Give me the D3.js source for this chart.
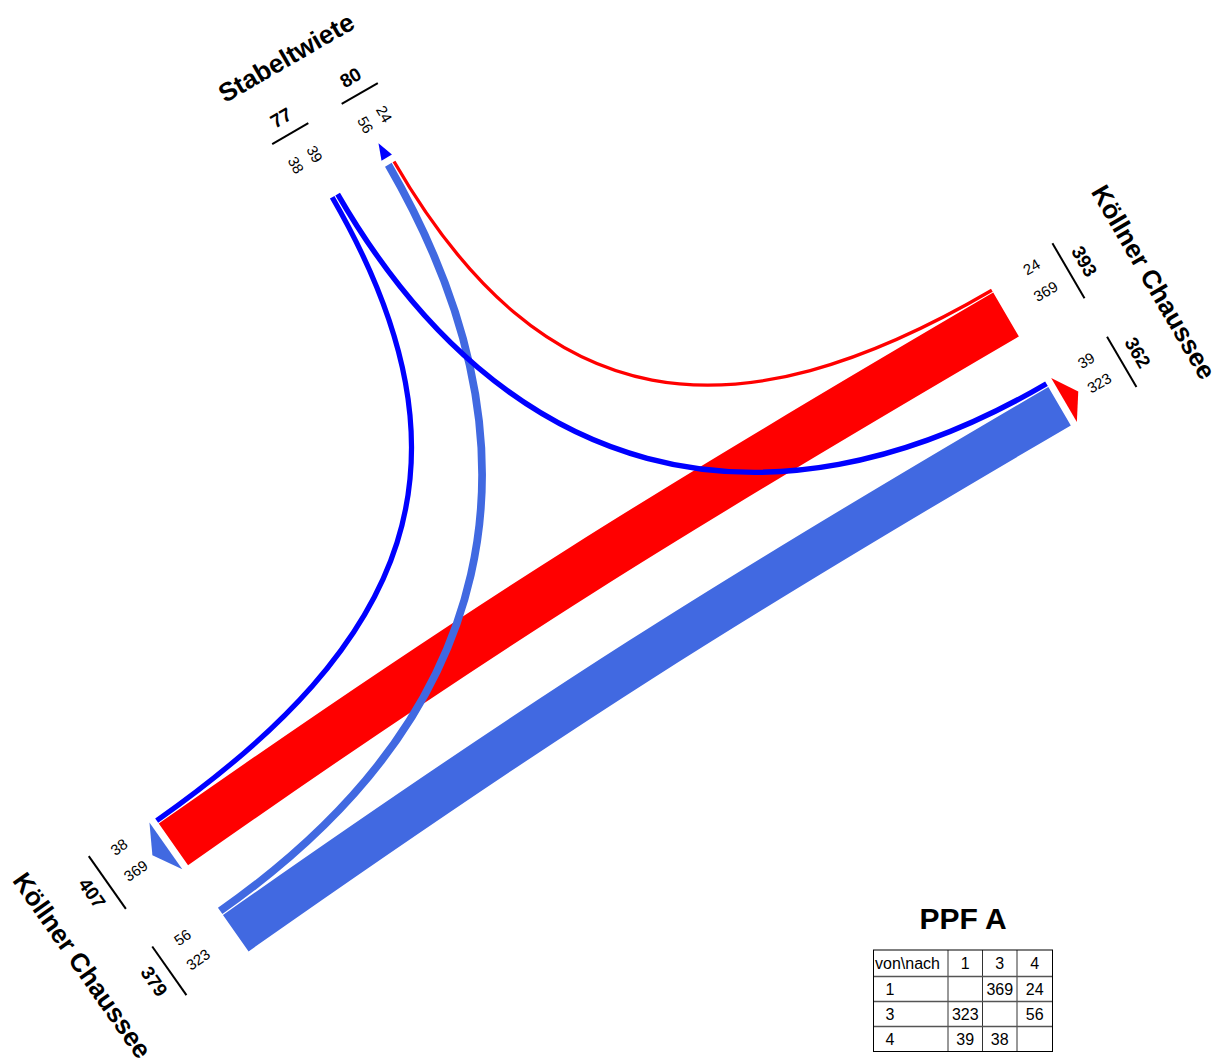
<!DOCTYPE html>
<html>
<head>
<meta charset="utf-8">
<script src="https://cdn.jsdelivr.net/npm/d3@7"></script>
<style>
  body { margin: 0; background: #fff; }
  svg text { font-family: "Liberation Sans", Arial, sans-serif; fill: #000; }
</style>
</head>
<body>
<svg id="chart" width="1224" height="1063"></svg>
<script>
// arms of the junction
const armIds = [1, 3, 4];
const armNames = ["Köllner Chaussee", "Köllner Chaussee", "Stabeltwiete"];

// turning movements (von -> nach)
const flowFrom = [1, 1, 3, 3, 4, 4];
const flowTo = [3, 4, 1, 4, 1, 3];
const flowVolume = [369, 24, 323, 56, 39, 38];

const title = "PPF A";
const tableCorner = "von\\nach";

// where each arm ends (middle of its gap) and which way it points, in degrees
const armLayout = {
  1: { x: 1032, y: 359, angle: -30.3 },
  3: { x: 203, y: 886.5, angle: 144.9 },
  4: { x: 362.5, y: 179.7, angle: -120 }
};
const armColor = { 1: "#ff0000", 3: "#4169e1", 4: "#0000ff" };

const svg = d3.select("#chart");
svg.append("rect").attr("width", 1224).attr("height", 1063).attr("fill", "#fff");

// band width per vehicle
const width = d3.scaleLinear().domain([0, 100]).range([0, 13.8]);
// handle length of the curves, from the chord length
const handle = d3.scaleLinear().domain([0, 1000]).range([152, 394]);

const halfGap = 26, sep = 1, labelGap = 21.7;
const outLabel = 46, outRule = 76, outTotal = 94.5, outName = 144;
const arrowBase = 7, arrowTip = 23.5;

const arms = armIds.map((id, i) => {
  const l = armLayout[id];
  const a = l.angle * Math.PI / 180;
  const d = [Math.cos(a), Math.sin(a)]; // outward
  const q = [d[1], -d[0]];              // side of departing traffic
  return { id, name: armNames[i], P: [l.x, l.y], d, q, angle: l.angle };
});
const armById = new Map(arms.map(a => [a.id, a]));

function pos(a, out, r) {
  return [a.P[0] + out * a.d[0] + r * a.q[0], a.P[1] + out * a.d[1] + r * a.q[1]];
}

function upright(angle) {
  let r = ((angle % 360) + 360) % 360;
  if (r > 180) r -= 360;
  if (r > 90) r -= 180;
  if (r <= -90) r += 180;
  return r;
}

const flows = flowVolume.map((v, i) => ({ from: flowFrom[i], to: flowTo[i], value: v }));

// left turns go inside, right turns outside
flows.forEach(f => {
  const o = armById.get(f.from), t = armById.get(f.to);
  f.turn = -o.d[0] * t.d[1] + o.d[1] * t.d[0];
});

arms.forEach(a => {
  a.sides = [
    { sign: 1, list: flows.filter(f => f.from === a.id) },
    { sign: -1, list: flows.filter(f => f.to === a.id) }
  ];
  a.sides.forEach(side => {
    side.list.sort((x, y) => x.turn - y.turn);
    let r = halfGap, lastLab = -Infinity;
    side.labels = [];
    side.list.forEach(f => {
      const w = width(f.value);
      const c = r + w / 2;
      if (side.sign > 0) f.startR = c; else f.endR = -c;
      const lab = Math.max(c, lastLab + labelGap);
      side.labels.push({ value: f.value, r: lab });
      lastLab = lab;
      r += w + sep;
    });
    side.inner = halfGap;
    side.outer = r - sep;
    side.total = d3.sum(side.list, f => f.value);
    side.ruleFrom = Math.min(side.inner, side.labels[0].r - 10);
    side.ruleTo = Math.max(side.outer, side.labels[side.labels.length - 1].r + 10);
  });
});

// flows, drawn by origin
const flowLayer = svg.append("g");
armIds.forEach(id => {
  flows.filter(f => f.from === id).forEach(f => {
    const o = armById.get(f.from), t = armById.get(f.to);
    const S = pos(o, 0, f.startR), E = pos(t, 0, f.endR);
    const L = handle(Math.hypot(E[0] - S[0], E[1] - S[1]));
    const C1 = pos(o, -L, f.startR), C2 = pos(t, -L, f.endR);
    const p = d3.path();
    p.moveTo(S[0], S[1]);
    p.bezierCurveTo(C1[0], C1[1], C2[0], C2[1], E[0], E[1]);
    flowLayer.append("path")
      .attr("d", p.toString())
      .attr("fill", "none")
      .attr("stroke", armColor[f.from])
      .attr("stroke-width", width(f.value))
      .attr("stroke-linecap", "butt");
  });
});

// arrows, numbers and names at each arm
const armLayer = svg.append("g");
arms.forEach(a => {
  const arr = a.sides[1];
  const b1 = pos(a, arrowBase, -arr.inner), b2 = pos(a, arrowBase, -arr.outer);
  const tip = pos(a, arrowTip, -(arr.inner + arr.outer) / 2);
  armLayer.append("path")
    .attr("d", d3.line()([b1, tip, b2]) + "Z")
    .attr("fill", armColor[a.id]);

  const rotAlong = upright(a.angle), rotAcross = upright(a.angle + 90);

  a.sides.forEach(side => {
    side.labels.forEach(l => {
      const p = pos(a, outLabel, side.sign * l.r);
      armLayer.append("text")
        .attr("transform", `translate(${p[0]},${p[1]}) rotate(${rotAlong})`)
        .attr("text-anchor", "middle").attr("dy", "0.35em")
        .attr("font-size", 15)
        .text(l.value);
    });
    const r1 = pos(a, outRule, side.sign * side.ruleFrom), r2 = pos(a, outRule, side.sign * side.ruleTo);
    armLayer.append("line")
      .attr("x1", r1[0]).attr("y1", r1[1]).attr("x2", r2[0]).attr("y2", r2[1])
      .attr("stroke", "#000").attr("stroke-width", 2);
    const tp = pos(a, outTotal, side.sign * (side.ruleFrom + side.ruleTo) / 2);
    armLayer.append("text")
      .attr("transform", `translate(${tp[0]},${tp[1]}) rotate(${rotAcross})`)
      .attr("text-anchor", "middle").attr("dy", "0.35em")
      .attr("font-size", 19).attr("font-weight", "bold")
      .text(side.total);
  });

  // name sits a little back along its reading direction
  const np = pos(a, outName, 0);
  const ra = rotAcross * Math.PI / 180;
  np[0] -= 5 * Math.cos(ra);
  np[1] -= 5 * Math.sin(ra);
  armLayer.append("text")
    .attr("transform", `translate(${np[0]},${np[1]}) rotate(${rotAcross})`)
    .attr("text-anchor", "middle").attr("dy", "0.35em")
    .attr("font-size", 26).attr("font-weight", "bold")
    .text(a.name);
});

// matrix table
const colX = [873.5, 948, 982.5, 1017, 1052.5];
const rowY = [950, 976.5, 1001.5, 1026.5, 1051.5];
const tab = svg.append("g");

tab.append("text")
  .attr("x", (colX[0] + colX[4]) / 2).attr("y", 928.5)
  .attr("text-anchor", "middle")
  .attr("font-size", 30).attr("font-weight", "bold")
  .text(title);

const cells = [[tableCorner, ...armIds]];
armIds.forEach(from => {
  cells.push([from, ...armIds.map(to => {
    const i = flows.findIndex(f => f.from === from && f.to === to);
    return i < 0 ? "" : flows[i].value;
  })]);
});

cells.forEach((row, ri) => {
  const yMid = (rowY[ri] + rowY[ri + 1]) / 2;
  row.forEach((v, ci) => {
    const t = tab.append("text")
      .attr("y", yMid).attr("dy", "0.35em")
      .attr("font-size", 16)
      .text(v);
    if (ci === 0) {
      t.attr("x", colX[0] + (ri === 0 ? 1.5 : 12)).attr("text-anchor", "start");
    } else {
      t.attr("x", (colX[ci] + colX[ci + 1]) / 2).attr("text-anchor", "middle");
    }
  });
});

colX.slice(1, -1).forEach(x => {
  tab.append("line").attr("x1", x).attr("x2", x).attr("y1", rowY[0]).attr("y2", rowY[4])
    .attr("stroke", "#333").attr("stroke-width", 1);
});
rowY.slice(1, -1).forEach(y => {
  tab.append("line").attr("x1", colX[0]).attr("x2", colX[4]).attr("y1", y).attr("y2", y)
    .attr("stroke", "#555").attr("stroke-width", 1.5);
});
tab.append("rect")
  .attr("x", colX[0]).attr("y", rowY[0])
  .attr("width", colX[4] - colX[0]).attr("height", rowY[4] - rowY[0])
  .attr("fill", "none").attr("stroke", "#000").attr("stroke-width", 1);
</script>
</body>
</html>
